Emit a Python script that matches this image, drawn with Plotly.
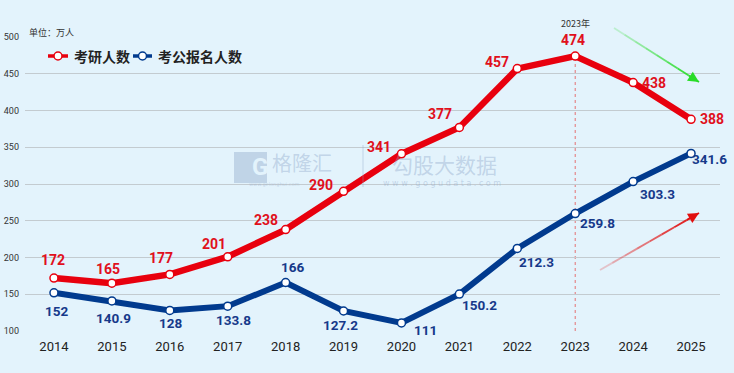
import plotly.graph_objects as go

years = [2014, 2015, 2016, 2017, 2018, 2019, 2020, 2021, 2022, 2023, 2024, 2025]
kaoyan = [172, 165, 177, 201, 238, 290, 341, 377, 457, 474, 438, 388]
kaogong = [152, 140.9, 128, 133.8, 166, 127.2, 111, 150.2, 212.3, 259.8, 303.3, 341.6]
kaoyan_labels = ["172", "165", "177", "201", "238", "290", "341", "377", "457", "474", "438", "388"]
kaogong_labels = ["152", "140.9", "128", "133.8", "166", "127.2", "111", "150.2", "212.3", "259.8", "303.3", "341.6"]
series_names = ["考研人数", "考公报名人数"]
y_ticks = [100, 150, 200, 250, 300, 350, 400, 450, 500]

# label offsets in pixels (dx, dy with screen-down positive)
red_off = [(-1, -18), (-4, -14), (-9, -16), (-14, -13), (-20, -10), (-23, -6),
           (-22, -7), (-19, -13), (-20, -7), (-2, -16), (21, 0), (21, 0)]
blue_off = [(3, 18), (2, 17), (1, 13), (6, 14), (7, -15), (-3, 14),
            (24, 7), (20, 11), (19, 14), (22, 9), (24, 12), (18, 6)]

RED = "#E8000E"
BLUE = "#013A8E"
RED_TXT = "#E0101C"
BLUE_TXT = "#16398A"
NUMFONT = "Roboto, Noto Sans, sans-serif"
CJK = "Noto Sans CJK SC, sans-serif"

# plot-area geometry (pixels) used for decorative overlays
L, R, T, B = 25, 14, 37, 42
W, H = 734, 373
PW, PH = W - L - R, H - T - B


def px(x):
    return (x - L) / PW


def py(y):
    return (H - B - y) / PH


fig = go.Figure()
fig.add_trace(go.Scatter(
    x=years, y=kaoyan, name=series_names[0], mode="lines+markers",
    line=dict(color=RED, width=6.5),
    marker=dict(size=8, color="white", line=dict(color=RED, width=1.5)),
))
fig.add_trace(go.Scatter(
    x=years, y=kaogong, name=series_names[1], mode="lines+markers",
    line=dict(color=BLUE, width=6),
    marker=dict(size=8, color="white", line=dict(color=BLUE, width=1.5)),
))

annotations = []
for x, y, t, (dx, dy) in zip(years, kaoyan, kaoyan_labels, red_off):
    annotations.append(dict(x=x, y=y, text=f"<b>{t}</b>", showarrow=False,
                            xshift=dx, yshift=-dy,
                            font=dict(family=NUMFONT, size=14, color=RED_TXT)))
for x, y, t, (dx, dy) in zip(years, kaogong, kaogong_labels, blue_off):
    annotations.append(dict(x=x, y=y, text=f"<b>{t}</b>", showarrow=False,
                            xshift=dx, yshift=-dy,
                            font=dict(family=NUMFONT, size=13.5, color=BLUE_TXT)))

annotations.append(dict(x=2023, y=474, text="2023年", showarrow=False, yshift=33,
                        font=dict(family=CJK, size=9, color="#333333")))
annotations.append(dict(xref="paper", yref="paper", x=px(27), y=py(33), xanchor="left",
                        yanchor="middle", text="单位：万人", showarrow=False,
                        font=dict(family=CJK, size=9, color="#333333")))

shapes = []

# custom compact legend (short line + hollow marker + bold label)
legend_items = [(series_names[0], RED, 48, 68), (series_names[1], BLUE, 133, 152)]
LEG_Y = 56
for nm, col, x0, x1 in legend_items:
    shapes.append(dict(type="line", xref="paper", yref="paper", x0=px(x0), x1=px(x1),
                       y0=py(LEG_Y), y1=py(LEG_Y), line=dict(color=col, width=3.5)))
    cx, r = (x0 + x1) / 2, 4
    shapes.append(dict(type="circle", xref="paper", yref="paper",
                       x0=px(cx - r), x1=px(cx + r), y0=py(LEG_Y + r), y1=py(LEG_Y - r),
                       fillcolor="white", line=dict(color=col, width=1.5)))
    annotations.append(dict(xref="paper", yref="paper", x=px(x1 + 4), y=py(LEG_Y),
                            xanchor="left", yanchor="middle", text=f"<b>{nm}</b>",
                            showarrow=False,
                            font=dict(family=CJK, size=14, color="#222222")))

# watermark
wm = "rgba(140,165,200,0.40)"
annotations += [
    dict(xref="paper", yref="paper", x=px(302), y=py(162), text="格隆汇",
         showarrow=False, font=dict(family=CJK, size=20, color=wm)),
    dict(xref="paper", yref="paper", x=px(250), y=py(167), text="<b>G</b>",
         showarrow=False, font=dict(family="Roboto", size=24, color="#E3F3FC")),
    dict(xref="paper", yref="paper", x=px(274), y=py(184), text="www.gelonghui.com",
         showarrow=False, font=dict(family="DejaVu Sans", size=5, color=wm)),
    dict(xref="paper", yref="paper", x=px(444), y=py(164), text="勾股大数据",
         showarrow=False, font=dict(family=CJK, size=21, color=wm)),
    dict(xref="paper", yref="paper", x=px(442), y=py(183),
         text="w w w . g o g u d a t a . c o m",
         showarrow=False, font=dict(family="DejaVu Sans", size=8, color=wm)),
]

shapes += [
    dict(type="line", x0=2023, x1=2023, y0=100, y1=474, xref="x", yref="y",
         line=dict(color="rgba(230,60,60,0.7)", width=1, dash="dot"), layer="below"),
    dict(type="line", xref="paper", yref="paper", x0=px(363), x1=px(363),
         y0=py(187), y1=py(145), line=dict(color=wm, width=1)),
    dict(type="rect", xref="paper", yref="paper", x0=px(234), x1=px(267),
         y0=py(183), y1=py(152), fillcolor=wm, line=dict(width=0), layer="below"),
]


# gradient trend arrows: fading shaft segments + arrowhead
def grad_arrow(x0, y0, x1, y1, rgb, n=8):
    for i in range(n):
        a0, a1 = i / n, (i + 1) / n
        alpha = 0.1 + 0.9 * a1
        shapes.append(dict(type="line", xref="paper", yref="paper",
                           x0=px(x0 + (x1 - x0) * a0), y0=py(y0 + (y1 - y0) * a0),
                           x1=px(x0 + (x1 - x0) * a1), y1=py(y0 + (y1 - y0) * a1),
                           line=dict(color=f"rgba({rgb},{alpha:.2f})", width=1.8)))
    annotations.append(dict(xref="paper", yref="paper", x=px(x1), y=py(y1),
                            ax=-(x1 - x0) / 8, ay=-(y1 - y0) / 8, axref="pixel", ayref="pixel",
                            showarrow=True, arrowhead=2, arrowsize=1.2, arrowwidth=1.8,
                            arrowcolor=f"rgb({rgb})", text=""))


grad_arrow(614, 28, 699, 82, "40,220,40")
grad_arrow(600, 270, 699, 213, "225,15,15")

fig.update_layout(
    width=W, height=H,
    margin=dict(l=L, r=R, t=T, b=B, autoexpand=False),
    paper_bgcolor="#E3F3FC", plot_bgcolor="#E3F3FC",
    showlegend=False,
    annotations=annotations,
    shapes=shapes,
    xaxis=dict(range=[2013.5, 2025.5], tickmode="array", tickvals=years,
               ticktext=[str(y) for y in years], showgrid=False, zeroline=False,
               showline=False, ticks="", ticklabelstandoff=6,
               tickfont=dict(family=NUMFONT, size=13, color="#222222")),
    yaxis=dict(range=[100, 500], tickmode="array", tickvals=y_ticks, showgrid=True,
               gridcolor="#C3CBD0", gridwidth=1, zeroline=False, showline=False,
               ticks="", ticklabelstandoff=5,
               tickfont=dict(family="Roboto, DejaVu Sans", size=9, color="#333333")),
)

fig.write_html("out.html", config={"displayModeBar": False},
               post_script="document.body.style.margin='0';")
